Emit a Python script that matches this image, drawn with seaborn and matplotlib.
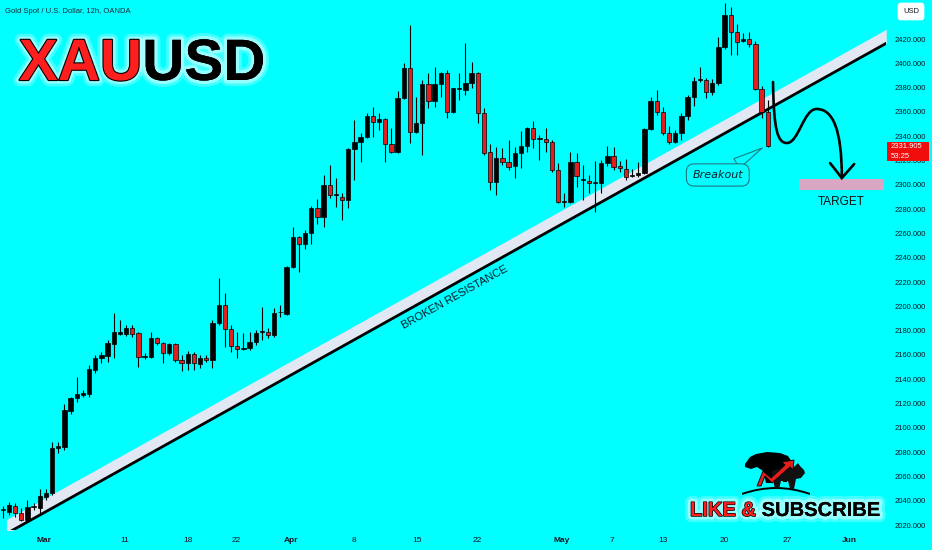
# -*- coding: utf-8 -*-

import matplotlib
matplotlib.use("Agg")
import matplotlib.pyplot as plt
import matplotlib.patheffects as pe
from matplotlib.path import Path
from matplotlib.patches import PathPatch, Rectangle, Polygon
import numpy as np
import pandas as pd
import seaborn as sns

# 12h candles (XAUUSD, OANDA), one entry per candle, left to right
OPEN = [
    2033, 2031, 2036, 2030, 2024, 2035, 2034, 2043, 2046, 2083,
    2084, 2114, 2124.5, 2127, 2128, 2147.6, 2157.5, 2159, 2169, 2177,
    2177, 2182, 2178, 2158, 2158, 2174, 2170, 2161.6, 2169, 2156,
    2153, 2160.7, 2152.5, 2157.5, 2156, 2186.3, 2201, 2181, 2167, 2165,
    2165.7, 2170.6, 2178.6, 2179, 2176.4, 2195, 2193.7, 2232.4, 2257.1, 2251.3,
    2260.3, 2280.9, 2273.5, 2299.8, 2291.6, 2290, 2287.5, 2329.5, 2335.2, 2339.4,
    2356.6, 2351.7, 2354.2, 2333.6, 2327, 2371.4, 2396.1, 2343.5, 2350.9, 2383,
    2369, 2383, 2392, 2360, 2378.6, 2378, 2383.8, 2392, 2359.1, 2327,
    2302.3, 2322, 2318.8, 2315.5, 2326.2, 2332, 2346.8, 2338, 2337.7, 2335.2,
    2312.2, 2286, 2285.9, 2318.8, 2303.9, 2303.1, 2301.5, 2301.5, 2318, 2323.7,
    2315.5, 2313, 2307.3, 2308, 2309.7, 2345.9, 2369, 2359.9, 2342.6, 2335.2,
    2342.6, 2356.6, 2372.3, 2386, 2386.3, 2376.4, 2383.8, 2413.4, 2439.8, 2425.8,
    2418.4, 2420, 2415.9, 2378.8, 2359.9,
]
HIGH = [
    2036, 2039, 2038, 2034, 2041, 2038, 2050, 2050, 2088, 2088,
    2120, 2125, 2142, 2131, 2152, 2160, 2162, 2172, 2194.5, 2189,
    2185, 2184.6, 2179, 2161.6, 2179, 2174.7, 2170.6, 2170, 2170, 2160,
    2163, 2162, 2160, 2160, 2188.7, 2223.3, 2211, 2185, 2179, 2178,
    2179, 2180.5, 2199.4, 2182, 2198.6, 2201, 2233.2, 2265.3, 2257.9, 2262.8,
    2282.6, 2288.3, 2308, 2316, 2305.6, 2293.3, 2330.3, 2353.3, 2342.6, 2359.1,
    2364, 2359.1, 2355, 2346.8, 2377.2, 2400.3, 2431.5, 2372.3, 2386.3, 2392,
    2397, 2392.9, 2394.5, 2380, 2392, 2416.7, 2401, 2392.9, 2363.2, 2333.6,
    2331.1, 2330.3, 2336.9, 2331.1, 2344.3, 2347.6, 2352.5, 2341, 2346.8, 2336.9,
    2318, 2293.3, 2327, 2326, 2316.3, 2308, 2319.6, 2320.4, 2331.9, 2331.1,
    2319.6, 2321.2, 2313, 2318.8, 2346.8, 2372.3, 2378, 2364, 2348.4, 2345.1,
    2359.1, 2373.9, 2388.7, 2397, 2387.9, 2387, 2421.6, 2449.6, 2446.3, 2432.4,
    2425, 2425.8, 2418.4, 2381.3, 2369.8,
]
LOW = [
    2026, 2028, 2027, 2023, 2023, 2032, 2030, 2041, 2045, 2079,
    2082, 2111, 2121, 2125, 2125, 2145, 2153, 2154, 2157.5, 2176,
    2175.6, 2175, 2150, 2156.6, 2157.5, 2168, 2153, 2160, 2154, 2147,
    2147.6, 2147.6, 2149, 2154, 2149, 2184.6, 2166.5, 2162.4, 2157.5, 2164,
    2164, 2168, 2172, 2174, 2174.8, 2191, 2192.8, 2231.5, 2228.2, 2247.2,
    2251.3, 2267.8, 2265.3, 2289, 2281.8, 2271, 2280.9, 2303.9, 2318.8, 2338.5,
    2339.4, 2345.1, 2318.8, 2326.2, 2326, 2370.5, 2334.4, 2342.6, 2324.5, 2363.2,
    2364, 2372.3, 2355, 2359, 2369.8, 2373.9, 2379.7, 2350.9, 2324.5, 2295.7,
    2291.6, 2316.3, 2312.2, 2305.6, 2313.8, 2327, 2330.3, 2320.4, 2327, 2310.5,
    2285, 2281.8, 2285, 2298.2, 2287.5, 2293.3, 2277.6, 2293.3, 2315.5, 2312.2,
    2310.5, 2303.9, 2306.4, 2306.4, 2309, 2345.1, 2357.5, 2341, 2333.6, 2334.4,
    2336.9, 2353.3, 2364.9, 2384.6, 2371.4, 2373.9, 2382, 2412, 2406.8, 2406.8,
    2417.5, 2413.4, 2378, 2355, 2331.1,
]
CLOSE = [
    2032, 2036.5, 2030, 2024, 2035, 2035.5, 2044, 2046, 2083, 2085,
    2115, 2124.5, 2128, 2128.6, 2148.4, 2157.5, 2160, 2170, 2179, 2179,
    2182, 2177, 2158, 2158.6, 2174, 2170, 2161.6, 2169, 2156, 2153,
    2160.7, 2153, 2157.5, 2156, 2186.3, 2201.1, 2181, 2167.3, 2165, 2165.7,
    2170.6, 2178, 2179, 2176.4, 2194.5, 2195.3, 2232.4, 2257.1, 2251.3, 2260.3,
    2280.9, 2273.5, 2299.8, 2291.6, 2292, 2287.5, 2329.5, 2335.2, 2339.4, 2356.6,
    2351.7, 2354.2, 2333.6, 2327, 2371.4, 2396.1, 2343.5, 2350.9, 2383, 2369,
    2383, 2392, 2360, 2379.7, 2379, 2383.8, 2392, 2359.1, 2326.2, 2302.3,
    2322, 2318.8, 2314.7, 2326.2, 2332, 2346.8, 2337.7, 2338.5, 2335.2, 2312.2,
    2285.9, 2286.3, 2318.8, 2307.3, 2304.3, 2301.5, 2302, 2318, 2323.7, 2314.7,
    2313.8, 2306.4, 2308, 2309.7, 2345.9, 2369, 2359.9, 2342.6, 2335.2, 2342.6,
    2356.6, 2372.3, 2385.4, 2386.5, 2376.4, 2383.8, 2413.4, 2439.8, 2425.8, 2417.5,
    2420, 2415.9, 2378.8, 2359.9, 2331.9,
]

# time axis labels (candle index where each date starts)
DATE_POS = [6.7, 19.8, 30.0, 37.8, 46.7, 57.0, 67.1, 76.9, 90.6, 98.7, 107.0, 116.9, 127.1, 137.3]
DATE_LABELS = ["Mar", "11", "18", "22", "Apr", "8", "15", "22", "May", "7", "13", "20", "27", "Jun"]
MONTHS = ["Mar", "Apr", "May", "Jun"]

PRICE_TICKS = [2020, 2040, 2060, 2080, 2100, 2120, 2140, 2160, 2180, 2200, 2220,
               2240, 2260, 2280, 2300, 2320, 2340, 2360, 2380, 2400, 2420]

# broken resistance trend line (start / end)
TREND_X = [0.6, 143.2]
TREND_Y = [2012.9, 2416.5]

# projected path after the breakout (cubic bezier control points)
PROJ_X = [124.85, 124.95, 125.6, 127.1, 129.0, 129.8, 131.9, 134.6, 136.0, 136.0]
PROJ_Y = [2384.6, 2345.0, 2334.4, 2334.4, 2334.4, 2362.4, 2362.4, 2362.4, 2345.0, 2305.6]
ARROW_X = [134.1, 136.0, 138.0]
ARROW_Y = [2317.9, 2305.6, 2317.1]

TARGET_X = [129.1, 142.8]
TARGET_Y = [2295.7, 2304.8]

BREAKOUT_BOX = (115.9, 2308.1)
BREAKOUT_TIP = (123.1, 2330.3)

LAST_PRICE_LABEL = "2331.905"
TIMER_LABEL = "53:25"

BG = "#00FFFF"
RED = "#E31E1E"
BAND = "#E1E7F3"
INK = "#131722"

sns.set_theme(style="white")
plt.rcParams["font.family"] = ["Liberation Sans", "DejaVu Sans"]

W, H = 932, 550
fig = plt.figure(figsize=(W / 100, H / 100), dpi=100)
fig.patch.set_facecolor(BG)
ax = fig.add_axes([0, 20 / H, 886 / W, 530 / H])
ax.set_facecolor(BG)

# candles
df = pd.DataFrame({"open": OPEN, "high": HIGH, "low": LOW, "close": CLOSE})
df["idx"] = np.arange(len(df))
df["color"] = np.where(df["close"] >= df["open"], "black", RED)
body_lo = df[["open", "close"]].min(axis=1)
body_h = (df["close"] - df["open"]).abs().clip(lower=0.7)

ax.vlines(df["idx"], df["low"], df["high"], color="black", lw=0.8, zorder=3)
ax.bar(df["idx"], body_h, bottom=body_lo, width=0.7, color=df["color"],
       edgecolor="black", linewidth=0.5, zorder=4)

# trend band + line
ax.fill_between(TREND_X, TREND_Y, [y + 11.5 for y in TREND_Y], color=BAND, lw=0, zorder=2)
sns.lineplot(x=TREND_X, y=TREND_Y, ax=ax, color="black", linewidth=2.0, zorder=2.5)

ax.text(73.3, 2207.7, "BROKEN RESISTANCE", rotation=29.1, rotation_mode="anchor",
        ha="center", va="center", fontsize=8, color="#0d1b2a", zorder=5)

# projected move
codes = [Path.MOVETO] + [Path.CURVE4] * 9
proj = Path(list(zip(PROJ_X, PROJ_Y)), codes)
ax.add_patch(PathPatch(proj, fc="none", ec="black", lw=1.9, zorder=6, capstyle="round"))
ax.plot(ARROW_X, ARROW_Y, color="black", lw=1.9, solid_capstyle="round",
        solid_joinstyle="miter", zorder=6)

# target zone
ax.add_patch(Rectangle((TARGET_X[0], TARGET_Y[0]), TARGET_X[1] - TARGET_X[0],
                       TARGET_Y[1] - TARGET_Y[0], fc="#D9A6C4", ec="none", zorder=5))
ax.text(sum(TARGET_X) / 2, 2285.9, "TARGET", ha="center", va="center",
        fontsize=8.5, color="#111111", zorder=6)

# breakout callout
ax.annotate("Breakout", xy=BREAKOUT_TIP, xytext=BREAKOUT_BOX, ha="center", va="center",
            fontsize=8, style="italic", color="#10202a", family="DejaVu Sans", zorder=7,
            bbox=dict(boxstyle="round,pad=0.55,rounding_size=0.7", fc=BG, ec="#237a82", lw=0.8),
            arrowprops=dict(arrowstyle="wedge,tail_width=1.0,shrink_factor=0.5",
                            fc=BG, ec="#237a82", lw=0.8, shrinkA=0, shrinkB=0))

# axes
ax.set_xlim(-0.44, 143.16)
ax.set_ylim(2015.9, 2452.1)
for s in ax.spines.values():
    s.set_visible(False)
ax.yaxis.tick_right()
ax.set_yticks(PRICE_TICKS)
ax.set_yticklabels([f"{v:.3f}" for v in PRICE_TICKS])
ax.set_xticks(DATE_POS)
ax.set_xticklabels(DATE_LABELS)
ax.tick_params(axis="both", length=0, colors=INK)
ax.tick_params(axis="y", pad=6, labelsize=5.5)
ax.tick_params(axis="x", pad=5, labelsize=6)
for lab in ax.get_xticklabels():
    if lab.get_text() in MONTHS:
        lab.set_fontweight("bold")
ax.grid(False)

# last price tag on the price scale
yx = ax.get_yaxis_transform()
last = CLOSE[-1]
ax.add_patch(Rectangle((1.001, last - 12.5), 0.047, 16.0, transform=yx,
                       fc="#F20D0D", ec="none", clip_on=False, zorder=8))
ax.text(1.005, last - 0.5, LAST_PRICE_LABEL, transform=yx, ha="left", va="center",
        fontsize=5.5, color="white", clip_on=False, zorder=9)
ax.text(1.005, last - 8.2, TIMER_LABEL, transform=yx, ha="left", va="center",
        fontsize=5.5, color="white", clip_on=False, zorder=9)

fig.text(911 / W, 1 - 11.5 / H, "USD", ha="center", va="center", fontsize=5.5, color=INK,
         bbox=dict(boxstyle="round,pad=0.7,rounding_size=0.4", fc="white", ec="none"))

# header texts
fig.text(5 / W, 1 - 11.5 / H, "Gold Spot / U.S. Dollar, 12h, OANDA", ha="left", va="center",
         fontsize=5.5, color="#1B2A3B")

glow = [pe.withStroke(linewidth=9, foreground="white", alpha=0.25),
        pe.withStroke(linewidth=5, foreground="white", alpha=0.45)]
t1 = fig.text(19 / W, 1 - 80 / H, "XAU", ha="left", va="baseline", fontsize=42,
              fontweight="bold", color="#FF1E1E",
              path_effects=glow + [pe.withStroke(linewidth=1.6, foreground="black")])
ax.annotate("USD", xy=(1, 0), xycoords=t1, xytext=(0, 0), textcoords="offset points",
            ha="left", va="bottom", fontsize=42, fontweight="bold", color="black",
            path_effects=glow + [pe.Normal()], annotation_clip=False)

t2 = fig.text(690 / W, 1 - 516 / H, "LIKE & ", ha="left", va="baseline", fontsize=14.5,
              fontweight="bold", color="#FF1E1E",
              path_effects=glow + [pe.withStroke(linewidth=1.0, foreground="black")])
ax.annotate("SUBSCRIBE", xy=(1, 0), xycoords=t2, xytext=(0, 0), textcoords="offset points",
            ha="left", va="bottom", fontsize=14.5, fontweight="bold", color="black",
            path_effects=glow + [pe.Normal()], annotation_clip=False)

# small bull & bear badge above the subscribe text
logo = fig.add_axes([742 / W, 1 - 497 / H, 68 / W, 45 / H])
logo.set_xlim(0, 68)
logo.set_ylim(45, 0)
logo.axis("off")
arc = Path([(0, 42), (34, 30), (68, 42)], [Path.MOVETO, Path.CURVE3, Path.CURVE3])
logo.add_patch(PathPatch(arc, fc="none", ec="black", lw=1.4))
bear = [(3, 12), (8, 5), (14, 2), (25, 0), (38, 1), (46, 4), (50, 10), (47, 18), (45, 30),
        (41, 30), (40, 21), (31, 22), (30, 31), (24, 31), (21, 19), (15, 15), (9, 17), (3, 15)]
bull = [(30, 19), (42, 15), (52, 15), (56, 11), (58, 14), (62, 18), (63, 21), (59, 26),
        (54, 27), (52, 37), (48, 37), (46, 29), (39, 29), (37, 37), (33, 37), (31, 28)]
bolt = [(15, 34), (21, 19), (29, 26), (43, 13), (40, 10), (52, 8), (51, 18), (48, 15),
        (30, 31), (23, 24), (19, 34)]
logo.add_patch(Polygon(bear, closed=True, fc="black", ec="none"))
logo.add_patch(Polygon(bull, closed=True, fc="#111111", ec="none"))
logo.add_patch(Polygon(bolt, closed=True, fc=RED, ec="black", lw=0.6))

fig.savefig("out.png", dpi=100, facecolor=BG)
